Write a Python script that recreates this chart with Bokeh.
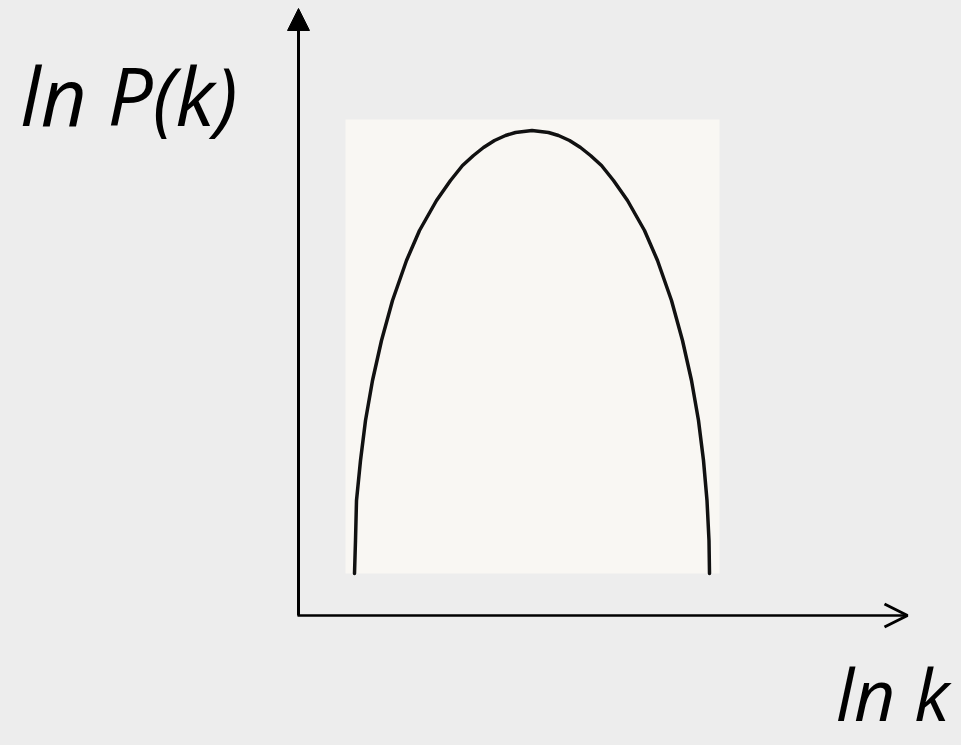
from bokeh.plotting import figure
from bokeh.models import Range1d, Arrow, NormalHead, OpenHead
from bokeh.core.properties import value
from bokeh.embed import file_html
from bokeh.resources import INLINE

# ---- data (ln k, ln P(k)), arbitrary units ----
ln_k = [0.56, 0.57, 0.58, 0.62, 0.67, 0.74, 0.83, 0.94, 1.08, 1.21, 1.38, 1.52, 1.64, 1.75,
        1.85, 1.96, 2.07, 2.17, 2.335,
        2.50, 2.60, 2.71, 2.82, 2.92, 3.03, 3.15, 3.29, 3.46, 3.59, 3.73, 3.84, 3.93, 4.00,
        4.05, 4.085, 4.105, 4.11]
ln_P = [0.42, 0.75, 1.15, 1.55, 1.95, 2.35, 2.75, 3.15, 3.55, 3.85, 4.15, 4.35, 4.50, 4.60,
        4.68, 4.75, 4.80, 4.83, 4.85,
        4.83, 4.80, 4.75, 4.68, 4.60, 4.50, 4.35, 4.15, 3.85, 3.55, 3.15, 2.75, 2.35, 1.95,
        1.55, 1.15, 0.75, 0.42]

# inset (scanned picture) extent in data units
inset_left, inset_right = [0.47], [4.21]
inset_bottom, inset_top = [0.42], [4.96]

# axis extents
x_axis_end = 6.09
y_axis_end = 6.07

y_label = "ln P(k)"
x_label = "ln k"

BG = "#ededed"

p = figure(width=961, height=745, output_backend="svg", toolbar_location=None,
           x_range=Range1d(-2.98, 6.63), y_range=Range1d(-1.30, 6.15),
           x_axis_location=None, y_axis_location=None, min_border=0,
           background_fill_color=BG, border_fill_color=BG, outline_line_color=None)
p.grid.visible = False

p.quad(left=inset_left, right=inset_right, bottom=inset_bottom, top=inset_top,
       fill_color="#f9f7f3", line_color=None)

p.line(ln_k, ln_P, line_color="#111111", line_width=3.5, line_join="round", line_cap="round")

p.add_layout(Arrow(end=NormalHead(size=22, fill_color="black", line_color="black", line_width=1),
                   x_start=0, y_start=0, x_end=0, y_end=y_axis_end,
                   line_color="black", line_width=3))
p.add_layout(Arrow(end=OpenHead(size=23, line_color="black", line_width=3),
                   x_start=-0.01, y_start=0, x_end=x_axis_end, y_end=0,
                   line_color="black", line_width=2.5))

p.text(x=[-2.78], y=[5.21], text=[y_label], text_font=value("Open Sans"),
       text_font_style="italic", text_font_size="80px", text_align="left",
       text_baseline="alphabetic", text_color="black")
p.text(x=[6.51], y=[-0.77], text=[x_label], text_font=value("Open Sans"),
       text_font_style="italic", text_font_size="72px", text_align="right",
       text_baseline="alphabetic", text_color="black")

html = file_html(p, INLINE)
html = html.replace("</head>", "<style>html,body{background:%s;margin:0;}</style></head>" % BG, 1)
open("out.html", "w").write(html)
